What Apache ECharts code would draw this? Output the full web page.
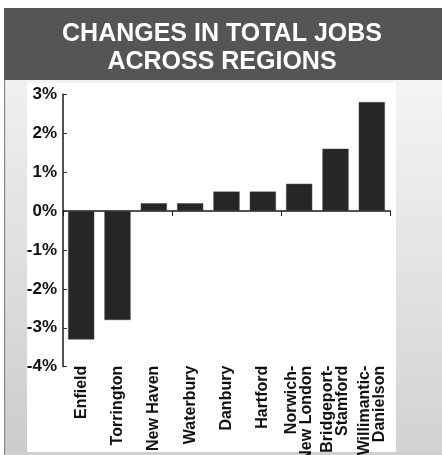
<!DOCTYPE html>
<html>
<head>
<meta charset="utf-8">
<script src="https://cdn.jsdelivr.net/npm/echarts@6/dist/echarts.min.js"></script>
<style>html,body{margin:0;padding:0;background:#fff;}#c{width:442px;height:455px;}</style>
</head>
<body>
<div id="c"></div>
<script>
const categories = ['Enfield', 'Torrington', 'New Haven', 'Waterbury', 'Danbury', 'Hartford', 'Norwich-\nNew London', 'Bridgeport-\nStamford', 'Willimantic-\nDanielson'];
const jobChange = [-3.3, -2.8, 0.2, 0.2, 0.5, 0.5, 0.7, 1.6, 2.8];
const yMin = -4, yMax = 3, yStep = 1;
const titleText = 'CHANGES IN TOTAL JOBS\nACROSS REGIONS';

const chart = echarts.init(document.getElementById('c'), null, {renderer: 'canvas'});
const font = 'Liberation Sans, Arial, sans-serif';
chart.setOption({
  animation: false,
  backgroundColor: '#ffffff',
  graphic: [
    {type: 'rect', z: -10, shape: {x: 4, y: 8, width: 438, height: 72}, style: {fill: '#555555'}},
    {type: 'rect', z: -10, shape: {x: 4, y: 80, width: 438, height: 375}, style: {fill: '#f2f2f2'}},
    {type: 'rect', z: -10, shape: {x: 5, y: 80, width: 22, height: 375}, style: {fill: new echarts.graphic.LinearGradient(0, 0, 0, 1, [{offset: 0, color: '#f0f0f0'}, {offset: 1, color: '#cccccc'}])}},
    {type: 'rect', z: -10, shape: {x: 396, y: 80, width: 46, height: 375}, style: {fill: new echarts.graphic.LinearGradient(0, 0, 0, 1, [{offset: 0, color: '#f4f4f4'}, {offset: 1, color: '#d2d2d2'}])}},
    {type: 'rect', z: -10, shape: {x: 4, y: 80, width: 1.2, height: 375}, style: {fill: '#8a8a8a'}},
    {type: 'rect', z: -10, shape: {x: 27, y: 83, width: 369, height: 369}, style: {fill: '#ffffff'}},
    {type: 'rect', z: -10, shape: {x: 5, y: 452, width: 437, height: 3}, style: {fill: '#cfcfcf'}}
  ],
  title: {
    text: titleText,
    left: 217, top: 15, textAlign: 'center',
    textStyle: {color: '#ffffff', fontSize: 25, fontWeight: 'bold', fontFamily: font, lineHeight: 28}
  },
  grid: {left: 63, right: 52, top: 94.3, bottom: 88.3, containLabel: false, outerBoundsMode: 'none'},
  xAxis: [
    {
      type: 'category', data: categories, position: 'bottom',
      axisLine: {onZero: true, lineStyle: {color: '#1a1a1a', width: 1.5}},
      axisTick: {show: true, inside: false, length: 5, lineStyle: {color: '#1a1a1a', width: 1}},
      axisLabel: {show: false},
      splitLine: {show: false}
    },
    {
      type: 'category', data: categories, position: 'bottom',
      axisLine: {show: false, onZero: false},
      axisTick: {show: false},
      axisLabel: {show: true, rotate: 90, margin: -1, interval: 0, color: '#111', fontSize: 16, fontWeight: 'bold', lineHeight: 15, fontFamily: font},
      splitLine: {show: false}
    }
  ],
  yAxis: {
    type: 'value', min: yMin, max: yMax, interval: yStep,
    axisLine: {show: true, lineStyle: {color: '#1a1a1a', width: 1.5}},
    axisTick: {show: true, inside: true, length: 4, lineStyle: {color: '#333'}},
    axisLabel: {formatter: '{value}%', color: '#111', fontSize: 17, fontWeight: 'bold', margin: 6, fontFamily: font},
    splitLine: {show: false}
  },
  series: [{
    type: 'bar', xAxisIndex: 0, data: jobChange,
    barCategoryGap: '28%',
    itemStyle: {color: '#262626', borderColor: '#444', borderWidth: 0.5}
  }]
});
</script>
</body>
</html>
